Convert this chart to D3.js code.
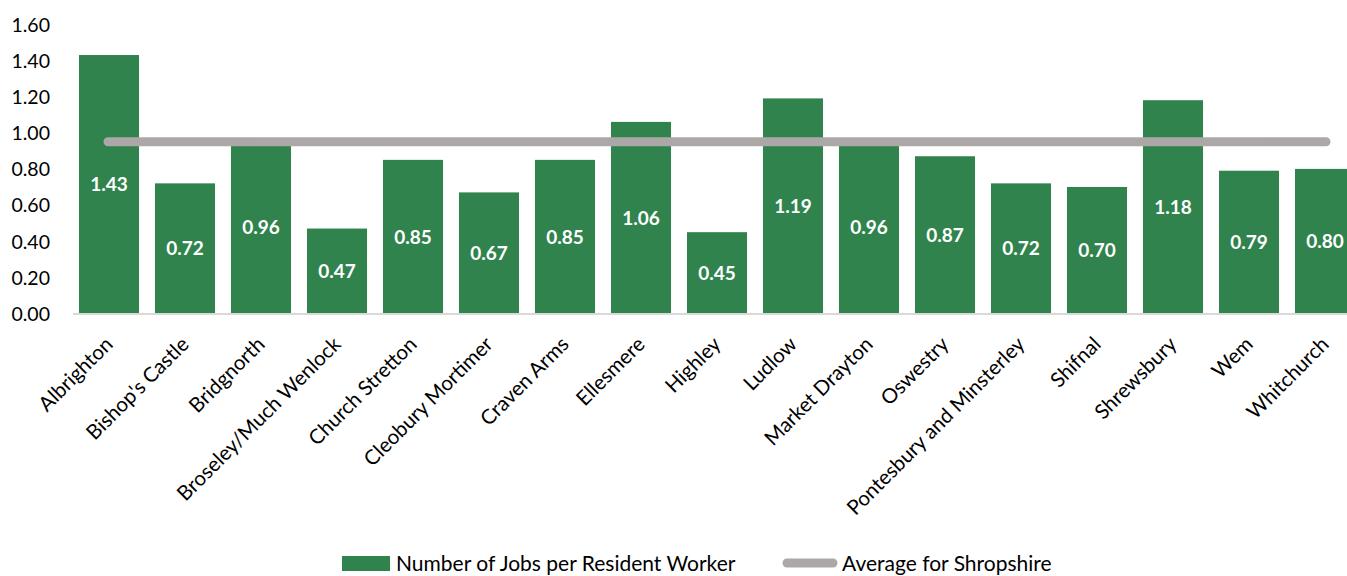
<!DOCTYPE html>
<html>
<head>
<meta charset="utf-8">
<script src="https://cdn.jsdelivr.net/npm/d3@7"></script>
<style>
  html, body { margin: 0; padding: 0; background: #fff; }
  svg { display: block; font-family: Lato, "Open Sans", sans-serif; }
</style>
</head>
<body>
<svg id="chart" width="1347" height="576"></svg>
<script>
const categories = ["Albrighton", "Bishop's Castle", "Bridgnorth", "Broseley/Much Wenlock", "Church Stretton",
  "Cleobury Mortimer", "Craven Arms", "Ellesmere", "Highley", "Ludlow", "Market Drayton", "Oswestry",
  "Pontesbury and Minsterley", "Shifnal", "Shrewsbury", "Wem", "Whitchurch"];
const jobsPerWorker = [1.43, 0.72, 0.96, 0.47, 0.85, 0.67, 0.85, 1.06, 0.45, 1.19, 0.96, 0.87, 0.72, 0.70, 1.18, 0.79, 0.80];
const shropshireAverage = 0.95;
const yTicks = [0, 0.2, 0.4, 0.6, 0.8, 1.0, 1.2, 1.4, 1.6];
const seriesNames = ["Number of Jobs per Resident Worker", "Average for Shropshire"];

const svg = d3.select("#chart");
const green = "#30834d";
const grey = "#aca8a7";

const x = d3.scaleBand().domain(categories).range([71, 1363]).paddingInner(0.21).paddingOuter(0.105);
const y = d3.scaleLinear().domain([0, 1.6]).range([313.5, 24.3]);

// y axis labels
const yAxis = d3.axisLeft(y).tickValues(yTicks).tickFormat(d3.format(".2f")).tickSize(0).tickPadding(0);
const yg = svg.append("g").attr("transform", "translate(50,0)").call(yAxis);
yg.select(".domain").remove();
yg.selectAll("text").attr("font-size", 19.5).attr("fill", "#000").attr("font-family", "Lato, sans-serif")
  .attr("dy", "0.35em");

// bars
svg.append("g").selectAll("rect").data(jobsPerWorker).join("rect")
  .attr("x", (d, i) => x(categories[i]))
  .attr("width", x.bandwidth())
  .attr("y", d => y(d))
  .attr("height", d => y(0) - y(d))
  .attr("fill", green);

// x axis
const xAxis = d3.axisBottom(x).tickSize(0).tickPadding(0);
const xg = svg.append("g").attr("transform", `translate(0,${y(0)})`).call(xAxis);
xg.select(".domain").remove();
svg.append("line").attr("x1", 73).attr("x2", 1347).attr("y1", y(0) + 0.5).attr("y2", y(0) + 0.5)
  .attr("stroke", "#d9d9d9").attr("stroke-width", 2);
xg.selectAll("text")
  .attr("font-size", 20.5).attr("fill", "#000").attr("font-family", "Lato, sans-serif")
  .attr("text-anchor", "end")
  .attr("transform", "translate(0,27) rotate(-45)")
  .attr("dy", "0.35em").attr("y", 0);

// average line
const first = categories[0], last = categories[categories.length - 1];
svg.append("line")
  .attr("x1", x(first) + x.bandwidth() / 2 - 1)
  .attr("x2", x(last) + x.bandwidth() / 2 + 1)
  .attr("y1", y(shropshireAverage)).attr("y2", y(shropshireAverage))
  .attr("stroke", grey).attr("stroke-width", 9).attr("stroke-linecap", "round");

// value labels
svg.append("g").selectAll("text").data(jobsPerWorker).join("text")
  .attr("x", (d, i) => x(categories[i]) + x.bandwidth() / 2)
  .attr("y", d => (y(d) + y(0)) / 2)
  .attr("dy", "0.36em")
  .attr("text-anchor", "middle")
  .attr("font-size", 19).attr("font-weight", "bold").attr("fill", "#fff")
  .text(d => d3.format(".2f")(d));

// legend
const lg = svg.append("g");
lg.append("rect").attr("x", 342).attr("y", 556).attr("width", 48).attr("height", 15).attr("fill", green);
lg.append("text").attr("x", 396).attr("y", 563).attr("dy", "0.36em").attr("font-size", 21).attr("fill", "#000")
  .text(seriesNames[0]);
lg.append("line").attr("x1", 787).attr("x2", 833).attr("y1", 563).attr("y2", 563)
  .attr("stroke", grey).attr("stroke-width", 9).attr("stroke-linecap", "round");
lg.append("text").attr("x", 842).attr("y", 563).attr("dy", "0.36em").attr("font-size", 21).attr("fill", "#000")
  .text(seriesNames[1]);
</script>
</body>
</html>
